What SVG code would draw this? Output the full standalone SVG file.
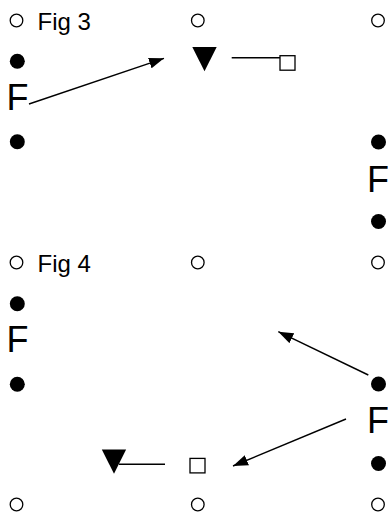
<svg xmlns="http://www.w3.org/2000/svg" width="388" height="514" viewBox="0 0 388 514">
<style>
text{font-family:"Liberation Sans",Arial,sans-serif;fill:#000}
.f{font-size:36px}
.t{font-size:24px}
.o{fill:none;stroke:#000;stroke-width:1.3}
.dot{fill:#000}
.tri{fill:#000}
.sq{fill:#fff;stroke:#000;stroke-width:1.3}
.c{stroke:#000;stroke-width:1.4;fill:none}
</style>
<defs>
<marker id="ah" markerWidth="15" markerHeight="11" refX="15" refY="5.5" orient="auto" markerUnits="userSpaceOnUse">
<path d="M0,0 L15,5.5 L0,11 Z" fill="#000"/>
</marker>
</defs>
<rect width="388" height="514" fill="#fff"/>
<g id="grid">
<circle class="o" cx="16.5" cy="20.5" r="6.3"/>
<circle class="o" cx="197.8" cy="20.5" r="6.3"/>
<circle class="o" cx="378" cy="20.5" r="6.3"/>
<circle class="o" cx="16.5" cy="262.5" r="6.3"/>
<circle class="o" cx="197.8" cy="262.5" r="6.3"/>
<circle class="o" cx="378" cy="262.5" r="6.3"/>
<circle class="o" cx="16.5" cy="504.5" r="6.3"/>
<circle class="o" cx="197.8" cy="504.5" r="6.3"/>
<circle class="o" cx="378" cy="504.5" r="6.3"/>
</g>
<g id="fig3-title"><text class="t" x="37.5" y="30">Fig 3</text></g>
<g id="fig4-title"><text class="t" x="37.5" y="272">Fig 4</text></g>
<g id="fig3-left">
<circle class="dot" cx="17.3" cy="61.2" r="7.5"/>
<text class="f" x="6.4" y="110">F</text>
<circle class="dot" cx="17.3" cy="141.7" r="7.5"/>
</g>
<g id="fig3-right">
<circle class="dot" cx="378.5" cy="142" r="7.5"/>
<text class="f" x="367" y="192">F</text>
<circle class="dot" cx="378.5" cy="221.5" r="7.5"/>
</g>
<g id="fig3-tri"><polygon class="tri" points="192.3,47 216.7,47 204.5,71.3"/></g>
<g id="fig3-sq"><rect class="sq" x="280" y="55.7" width="15" height="14.5"/></g>
<g id="fig4-left">
<circle class="dot" cx="17.3" cy="303.8" r="7.5"/>
<text class="f" x="6.4" y="352">F</text>
<circle class="dot" cx="17.3" cy="384.3" r="7.5"/>
</g>
<g id="fig4-right">
<circle class="dot" cx="378.5" cy="384" r="7.5"/>
<text class="f" x="367" y="433">F</text>
<circle class="dot" cx="378.5" cy="463.5" r="7.5"/>
</g>
<g id="fig4-tri"><polygon class="tri" points="101.8,449.5 126.1,449.5 114,473.8"/></g>
<g id="fig4-sq"><rect class="sq" x="190" y="458.4" width="15" height="14.5"/></g>
<g id="connectors">
<path class="c" d="M29,104 L164,58.3" marker-end="url(#ah)"/>
<path class="c" d="M231.7,57.7 L280,57.7"/>
<path class="c" d="M368.3,375 L278.3,331.7" marker-end="url(#ah)"/>
<path class="c" d="M346,419 L233,466" marker-end="url(#ah)"/>
<path class="c" d="M119,464.3 L165,464.3"/>
</g>
</svg>
